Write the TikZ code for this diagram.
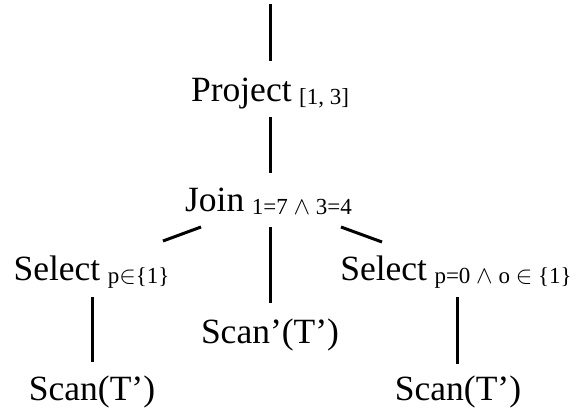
\documentclass[tikz,border=0pt]{standalone}
\usepackage{fontspec}
\setmainfont{Liberation Serif}
\usetikzlibrary{calc}
\newcommand{\sbs}[1]{\hspace{7.5pt}{\fontsize{23}{23}\selectfont\raisebox{-3pt}{#1}}}
\newcommand{\andsym}{$\wedge$}
\newcommand{\insym}{$\in$}
\begin{document}
\begin{tikzpicture}[x=1pt,y=-1pt,
  every node/.style={inner sep=0pt, font=\fontsize{35.5}{35.5}\selectfont},
  lbl/.style={anchor=base},
  edge/.style={line width=3pt}]
\useasboundingbox (0,0) rectangle (574,413);
\node[lbl] (proj) at (270,101.5) {Project\sbs{[1, 3]}};
\node[lbl] (join) at (268.5,211.5) {Join\sbs{1=7 \andsym{} 3=4}};
\node[lbl] (selL) at (91.5,280) {Select\sbs{p\insym\{1\}}};
\node[lbl] (scanM) at (270,343) {Scan’(T’)};
\node[lbl] (selR) at (456,280) {Select\sbs{p=0 \andsym{} o \insym{} \{1\}}};
\node[lbl] (scanL) at (92,400) {Scan(T’)};
\node[lbl] (scanR) at (458,400) {Scan(T’)};
\coordinate (top) at (270,4);
\draw[edge] (top) -- ($(proj.base)+(0,-40.5)$);
\draw[edge] ($(proj.base)+(0,15.5)$) -- ($(join.base)+(1.5,-38.5)$);
\draw[edge] ($(join.base)+(-67.5,15.5)$) -- ($(selL.base)+(71.5,-39)$);
\draw[edge] ($(join.base)+(1.5,15.5)$) -- ($(scanM.base)+(0,-40)$);
\draw[edge] ($(join.base)+(72.5,15.5)$) -- ($(selR.base)+(-74,-38)$);
\draw[edge] ($(selL.base)+(0.5,17)$) -- ($(scanL.base)+(0,-38)$);
\draw[edge] ($(selR.base)+(1,17)$) -- ($(scanR.base)+(-1,-36)$);
\end{tikzpicture}
\end{document}
